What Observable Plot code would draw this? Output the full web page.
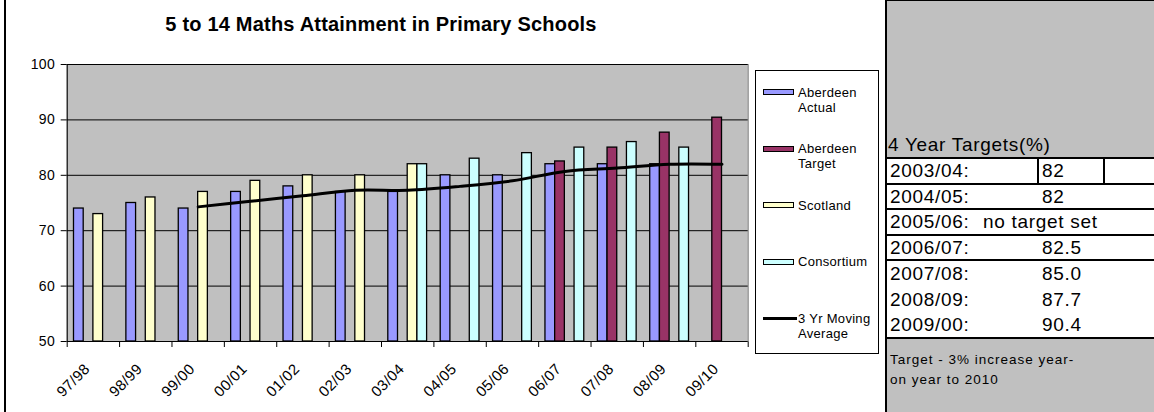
<!DOCTYPE html>
<html>
<head>
<meta charset="utf-8">
<script src="https://cdn.jsdelivr.net/npm/d3@7"></script>
<script src="https://cdn.jsdelivr.net/npm/@observablehq/plot@0.6"></script>
<style>
html, body { margin:0; padding:0; background:#fff; }
body { width:1154px; height:412px; position:relative; overflow:hidden; font-family:"Liberation Sans", Arial, sans-serif; color:#000; }
#chart { position:absolute; left:0; top:0; width:880px; height:412px; }
#chart svg { position:absolute; left:0; top:0; }
#frameLeft { position:absolute; left:4px; top:0; width:2px; height:412px; background:#000; }
#title { position:absolute; left:0; top:13px; width:762px; text-align:center; font-weight:bold; font-size:20px; letter-spacing:0.2px; line-height:22px; }
#legend { position:absolute; left:755px; top:69.5px; width:123.5px; height:284.5px; box-sizing:border-box; border:1px solid #000; background:#fff; padding-top:14px; padding-left:7px; }
.litem { height:56.5px; display:flex; align-items:flex-start; font-size:13px; letter-spacing:0.3px; line-height:15px; }
.lsw { width:35px; height:15px; position:relative; flex:none; }
.lsw .box { position:absolute; left:0; top:4.5px; width:31px; height:6px; box-sizing:border-box; border:1px solid #000; }
.lsw .ln { position:absolute; left:0; top:6px; width:34px; height:3px; background:#000; }
.ltx { width:80px; }
#panel { position:absolute; left:885px; top:0; width:269px; height:412px; box-sizing:border-box; background:#c0c0c0; border-left:2px solid #000; border-top:1px solid #000; }
#phead { position:absolute; left:1px; top:133.5px; font-size:19px; letter-spacing:0.7px; line-height:20px; white-space:nowrap; }
#ptable { position:absolute; left:0; right:0; top:156.3px; border-top:2px solid #000; border-bottom:2px solid #000; background:#fff; }
.prow { position:relative; font-size:19px; letter-spacing:0.7px; white-space:nowrap; }
.prow span { position:absolute; top:0; }
.vline { position:absolute; top:0; bottom:0; width:2px; background:#000; }
#pnote { position:absolute; left:3px; top:348.6px; font-size:13.5px; letter-spacing:1px; line-height:20.7px; white-space:nowrap; }
</style>
</head>
<body>
<div id="chart"></div>
<div id="frameLeft"></div>
<div id="title"></div>
<div id="legend"></div>
<div id="panel"><div id="phead"></div><div id="ptable"></div><div id="pnote"></div></div>
<script>
// ---- data ----
const titleText = "5 to 14 Maths Attainment in Primary Schools";
const categories = ["97/98","98/99","99/00","00/01","01/02","02/03","03/04","04/05","05/06","06/07","07/08","08/09","09/10"];
const seriesNames = ["Aberdeen Actual","Aberdeen Target","Scotland","Consortium"];
const seriesColors = ["#9999ff","#993366","#ffffcc","#ccffff"];
const aberdeenActual = [74,75,74,77,78,77,77,80,80,82,82,82,null];
const aberdeenTarget = [null,null,null,null,null,null,null,null,null,82.5,85.0,87.7,90.4];
const scotland = [73,76,77,79,80,80,82,null,null,null,null,null,null];
const consortium = [null,null,null,null,null,null,82,83,84,85,86,85,null];
const movingAverage = [null,null,74.3,75.3,76.3,77.3,77.3,78.0,79.0,80.7,81.3,82.0,82.0];
const lineName = "3 Yr Moving Average";
const yDomain = [50, 100];
const yTicks = [50,60,70,80,90,100];
const targetHeader = "4 Year Targets(%)";
const targetYears = ["2003/04:","2004/05:","2005/06:","2006/07:","2007/08:","2008/09:","2009/00:"];
const targetValues = ["82","82","no target set","82.5","85.0","87.7","90.4"];
const noteLines = ["Target - 3% increase year-","on year to 2010"];

// ---- chart ----
const W = 880, H = 412;
const margins = {marginLeft: 66.7, marginRight: 132.3, marginTop: 64, marginBottom: 71};
const seriesValues = [aberdeenActual, aberdeenTarget, scotland, consortium];
const barData = [];
seriesValues.forEach((vals, k) => vals.forEach((v, i) => {
  if (v != null) barData.push({cat: categories[i], series: seriesNames[k], value: v});
}));
const maData = movingAverage.map((v, i) => ({pos: i + 0.5, value: v})).filter(d => d.value != null);

const base = Plot.plot({
  width: W, height: H, ...margins,
  style: {fontFamily: '"Liberation Sans", Arial, sans-serif', fontSize: "14px", letterSpacing: "0.4px", background: "transparent", overflow: "visible", color: "#000"},
  x: {domain: [0, categories.length], ticks: d3.range(categories.length + 1), tickSize: 6, tickFormat: () => "", label: null},
  y: {domain: yDomain, ticks: yTicks, tickSize: 6, tickPadding: 6, label: null},
  marks: [
    Plot.frame({fill: "#c0c0c0", stroke: "#808080"}),
    Plot.ruleY(yTicks.filter(v => v > yDomain[0]), {stroke: "#000"}),
    Plot.ruleX([0], {stroke: "#000"}),
    Plot.ruleY([yDomain[0]], {stroke: "#000"}),
    Plot.text(categories, {x: (d, i) => i + 0.5, y: yDomain[0], text: d => d, rotate: -45, textAnchor: "end", fontSize: 15, dx: -6, dy: 25})
  ]
});

const bars = Plot.plot({
  width: W, height: H, ...margins,
  style: {background: "transparent", overflow: "visible"},
  fx: {domain: categories, padding: 0, axis: null, round: false, label: null},
  x: {domain: seriesNames, paddingInner: 0, paddingOuter: 0.7, axis: null, round: false},
  y: {domain: yDomain, axis: null},
  color: {domain: seriesNames, range: seriesColors},
  marks: [
    Plot.barY(barData, {fx: "cat", x: "series", y1: yDomain[0], y2: "value", fill: "series", stroke: "#000", strokeWidth: 1.3})
  ]
});

const line = Plot.plot({
  width: W, height: H, ...margins,
  style: {background: "transparent", overflow: "visible"},
  x: {domain: [0, categories.length], axis: null},
  y: {domain: yDomain, axis: null},
  marks: [
    Plot.line(maData, {x: "pos", y: "value", stroke: "#000", strokeWidth: 3, curve: "catmull-rom"})
  ]
});

const chart = document.getElementById("chart");
chart.append(base, bars, line);

document.getElementById("title").textContent = titleText;

// ---- legend ----
const legend = document.getElementById("legend");
seriesNames.forEach((name, k) => {
  const item = document.createElement("div"); item.className = "litem";
  const sw = document.createElement("div"); sw.className = "lsw";
  const box = document.createElement("div"); box.className = "box"; box.style.background = seriesColors[k];
  sw.append(box);
  const tx = document.createElement("div"); tx.className = "ltx"; tx.textContent = name;
  item.append(sw, tx); legend.append(item);
});
{
  const item = document.createElement("div"); item.className = "litem";
  const sw = document.createElement("div"); sw.className = "lsw";
  const ln = document.createElement("div"); ln.className = "ln"; sw.append(ln);
  const tx = document.createElement("div"); tx.className = "ltx"; tx.textContent = lineName;
  item.append(sw, tx); legend.append(item);
}

// ---- side panel ----
document.getElementById("phead").textContent = targetHeader;
const ptable = document.getElementById("ptable");
targetYears.forEach((yr, i) => {
  const row = document.createElement("div"); row.className = "prow";
  const bordered = i < 4;
  row.style.height = bordered ? "23.5px" : "25.3px";
  row.style.lineHeight = row.style.height;
  if (bordered) row.style.borderBottom = "2px solid #000";
  const a = document.createElement("span"); a.style.left = "3px"; a.textContent = yr;
  const b = document.createElement("span");
  const isNum = !isNaN(parseFloat(targetValues[i]));
  b.style.left = isNum ? "155px" : "96px";
  b.textContent = targetValues[i];
  row.append(a, b);
  if (i === 0) {
    for (const x of ["149.7px", "215.7px"]) {
      const v = document.createElement("div"); v.className = "vline"; v.style.left = x; row.append(v);
    }
  }
  ptable.append(row);
});
document.getElementById("pnote").innerHTML = noteLines.map(s => `<div>${s}</div>`).join("");
</script>
</body>
</html>
